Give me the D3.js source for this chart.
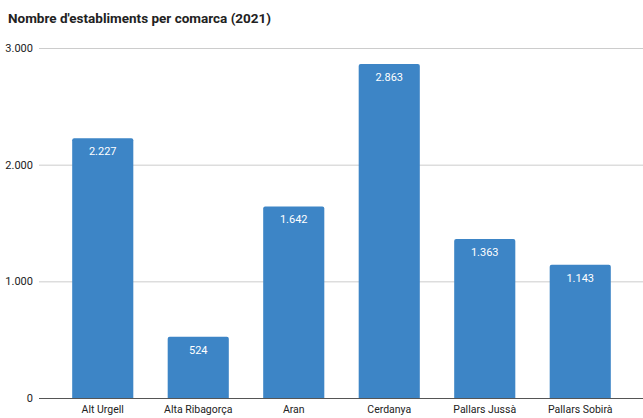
<!DOCTYPE html>
<html>
<head>
<meta charset="utf-8">
<script src="https://cdn.jsdelivr.net/npm/d3@7"></script>
<style>
  body { margin: 0; background: #fff; }
  text { font-family: Roboto, "Noto Sans", sans-serif; }
</style>
</head>
<body>
<div id="chart"></div>
<script>
// data
var comarques = ["Alt Urgell", "Alta Ribagorça", "Aran", "Cerdanya", "Pallars Jussà", "Pallars Sobirà"];
var establiments = [2227, 524, 1642, 2863, 1363, 1143];
var yTicks = [0, 1000, 2000, 3000];

var W = 643, H = 418;
var fmt = d3.formatLocale({ decimal: ",", thousands: ".", grouping: [3] }).format(",d");

var svg = d3.select("#chart")
    .append("svg")
    .attr("width", W)
    .attr("height", H);

// title
svg.append("text")
    .attr("x", 8)
    .attr("y", 23)
    .attr("font-size", 13.5)
    .attr("font-weight", "bold")
    .attr("fill", "#222")
    .text("Nombre d'establiments per comarca (2021)");

var x = d3.scaleBand()
    .domain(comarques)
    .range([55, 628])
    .paddingInner(0.36)
    .paddingOuter(0.18);

var y = d3.scaleLinear()
    .domain([0, 3000])
    .range([398, 48]);

// gridlines
svg.append("g")
    .selectAll("line")
    .data(yTicks.filter(function (d) { return d > 0; }))
    .enter().append("line")
    .attr("x1", 39)
    .attr("x2", W)
    .attr("y1", function (d) { return y(d) + 0.5; })
    .attr("y2", function (d) { return y(d) + 0.5; })
    .attr("stroke", "#ccc")
    .attr("stroke-width", 1);

// y labels
svg.append("g")
    .selectAll("text")
    .data(yTicks)
    .enter().append("text")
    .attr("x", 33)
    .attr("y", function (d) { return y(d) + 4; })
    .attr("text-anchor", "end")
    .attr("font-size", 11)
    .attr("fill", "#222")
    .text(function (d) { return fmt(d); });

// bars
svg.append("g")
    .selectAll("path")
    .data(comarques)
    .enter().append("path")
    .attr("fill", "#3d85c6")
    .attr("d", function (d, i) {
        var x0 = x(d), w = x.bandwidth(), t = y(establiments[i]), b = y(0), r = 2;
        return "M" + x0 + "," + b + "V" + (t + r) + "Q" + x0 + "," + t + " " + (x0 + r) + "," + t +
            "H" + (x0 + w - r) + "Q" + (x0 + w) + "," + t + " " + (x0 + w) + "," + (t + r) + "V" + b + "Z";
    });

// bar value labels
svg.append("g")
    .selectAll("text")
    .data(comarques)
    .enter().append("text")
    .attr("x", function (d) { return x(d) + x.bandwidth() / 2; })
    .attr("y", function (d, i) { return y(establiments[i]) + 17; })
    .attr("text-anchor", "middle")
    .attr("font-size", 11)
    .attr("fill", "#fff")
    .text(function (d, i) { return fmt(establiments[i]); });

// zero baseline
svg.append("line")
    .attr("x1", 39)
    .attr("x2", W)
    .attr("y1", y(0) + 0.5)
    .attr("y2", y(0) + 0.5)
    .attr("stroke", "#555")
    .attr("stroke-width", 1);

// x labels
svg.append("g")
    .selectAll("text")
    .data(comarques)
    .enter().append("text")
    .attr("x", function (d) { return x(d) + x.bandwidth() / 2; })
    .attr("y", 413)
    .attr("text-anchor", "middle")
    .attr("font-size", 10.5)
    .attr("fill", "#222")
    .text(function (d) { return d; });
</script>
</body>
</html>
